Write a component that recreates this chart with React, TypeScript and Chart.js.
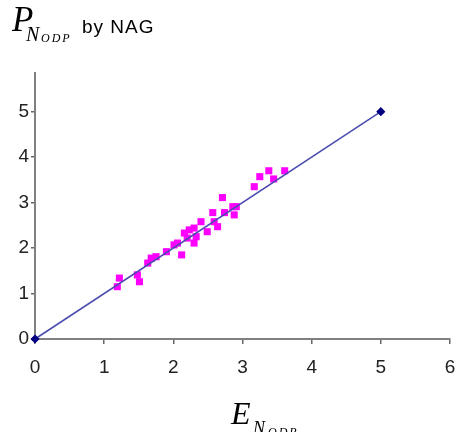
import React, { useEffect, useRef } from "react";
import { Chart, registerables } from "chart.js";

Chart.register(...registerables);

const measuredX = [1.19, 1.22, 1.48, 1.51, 1.63, 1.68, 1.75, 1.90, 2.01, 2.06, 2.12, 2.16, 2.20, 2.23, 2.30, 2.30, 2.33, 2.40, 2.49, 2.57, 2.59, 2.64, 2.71, 2.74, 2.86, 2.88, 2.91, 3.17, 3.25, 3.38, 3.45, 3.61];
const predictedY = [1.15, 1.34, 1.41, 1.26, 1.67, 1.78, 1.81, 1.92, 2.07, 2.11, 1.85, 2.33, 2.22, 2.40, 2.44, 2.11, 2.25, 2.58, 2.36, 2.78, 2.58, 2.47, 3.11, 2.78, 2.91, 2.73, 2.91, 3.35, 3.57, 3.70, 3.52, 3.70];
const lineX = [0, 5];
const lineY = [0, 5];
const xTicks = [0, 1, 2, 3, 4, 5, 6];
const yTicks = [0, 1, 2, 3, 4, 5];

export default function App() {
  const ref = useRef<HTMLCanvasElement | null>(null);
  useEffect(() => {
    document.body.style.margin = "0";
    if (!ref.current) return;
    const chart = new Chart(ref.current, {
      type: "scatter",
      data: {
        datasets: [
          {
            label: "Points",
            data: measuredX.map((x, i) => ({ x, y: predictedY[i] })),
            pointStyle: "rect",
            pointRadius: 5,
            backgroundColor: "#ff00ff",
            borderColor: "#ff00ff",
            borderWidth: 0,
            order: 2,
          },
          {
            label: "Line",
            data: lineX.map((x, i) => ({ x, y: lineY[i] })),
            showLine: true,
            clip: false,
            borderColor: "#4a4ab0",
            borderWidth: 1.5,
            pointStyle: "rectRot",
            pointRadius: 3.5,
            backgroundColor: "#000080",
            pointBorderColor: "#000080",
            order: 1,
          },
        ],
      },
      options: {
        animation: false,
        responsive: false,
        layout: { padding: { left: 0, right: 6, top: 73, bottom: 0 } },
        plugins: { legend: { display: false }, tooltip: { enabled: false }, title: { display: false } },
        scales: {
          x: {
            type: "linear",
            min: 0,
            max: 6,
            afterBuildTicks: (s: any) => { s.ticks = xTicks.map((v) => ({ value: v })); },
            afterFit: (s: any) => { s.height = 93; s.paddingLeft = 0; s.paddingRight = 0; },
            ticks: { color: "#222", font: { family: "Liberation Sans", size: 19 }, padding: 12, maxRotation: 0, autoSkip: false },
            grid: { display: true, drawOnChartArea: false, drawTicks: true, tickLength: 5, color: "#666", lineWidth: 1.5 },
            border: { display: true, color: "#808080", width: 2 },
          },
          y: {
            type: "linear",
            min: 0,
            max: 5.85,
            afterBuildTicks: (s: any) => { s.ticks = yTicks.map((v) => ({ value: v })); },
            afterFit: (s: any) => { s.width = 35; s.paddingTop = 0; s.paddingBottom = 0; },
            ticks: { color: "#222", font: { family: "Liberation Sans", size: 19 }, padding: 2 },
            grid: { display: true, drawOnChartArea: false, drawTicks: true, tickLength: 4, color: "#666", lineWidth: 1.5 },
            border: { display: true, color: "#808080", width: 2 },
          },
        },
      },
    });
    return () => chart.destroy();
  }, []);

  const serifItalic = { fontFamily: "'Liberation Serif', serif", fontStyle: "italic" as const, lineHeight: 1, position: "absolute" as const, whiteSpace: "nowrap" as const };
  return (
    <div style={{ position: "relative", width: 456, height: 432, background: "#fff", overflow: "hidden" }}>
      <canvas ref={ref} width={456} height={432} style={{ position: "absolute", left: 0, top: 0 }} />
      <span style={{ ...serifItalic, fontSize: 35, left: 12, top: 2 }}>P</span>
      <span style={{ ...serifItalic, fontSize: 20, left: 26, top: 24 }}>N</span>
      <span style={{ ...serifItalic, fontSize: 12, left: 41, top: 32, letterSpacing: 2 }}>ODP</span>
      <span style={{ fontFamily: "'Liberation Sans', sans-serif", fontSize: 19, letterSpacing: 1, lineHeight: 1, position: "absolute", left: 82, top: 17, whiteSpace: "nowrap" }}>by NAG</span>
      <span style={{ ...serifItalic, fontSize: 32, left: 231, top: 397 }}>E</span>
      <span style={{ ...serifItalic, fontSize: 18, left: 253, top: 419 }}>N</span>
      <span style={{ ...serifItalic, fontSize: 12, left: 268, top: 426, letterSpacing: 2 }}>ODP</span>
    </div>
  );
}
